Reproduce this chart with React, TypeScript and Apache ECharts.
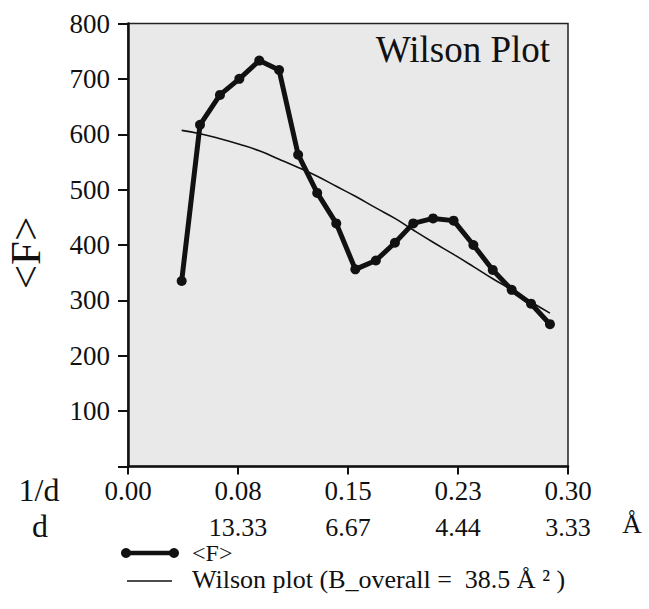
import React, { useEffect, useRef } from "react";
import * as echarts from "echarts";

// 1/d positions of the shells (Å^-1)
const invD = [0.0366, 0.0491, 0.0627, 0.0759, 0.0895, 0.103, 0.116, 0.129, 0.142, 0.155, 0.169, 0.182, 0.1945, 0.208, 0.222, 0.2355, 0.2487, 0.2616, 0.2748, 0.2877];
// mean amplitude <F> per shell
const meanF = [335, 617, 671, 700, 733, 716, 563, 494, 439, 356, 372, 404, 439, 448, 444, 400, 355, 319, 294, 257];
// Wilson plot fit
const wilsonFit = [607, 601, 592, 582, 570, 555, 540, 524, 506, 488, 467, 448, 427, 405, 383, 361, 339, 319, 297, 277];

const xTickLabels = ["0.00", "0.08", "0.15", "0.23", "0.30"];
const dTickLabels = ["", "13.33", "6.67", "4.44", "3.33"];

const FONT = "Liberation Serif";

export default function App() {
  const ref = useRef<HTMLDivElement>(null);
  useEffect(() => {
    document.body.style.margin = "0";
    if (!ref.current) return;
    const chart = echarts.init(ref.current, null, { renderer: "svg" });
    const tickIdx = (v: number) => Math.round(v / 0.075);
    chart.setOption({
      animation: false,
      backgroundColor: "#ffffff",
      textStyle: { fontFamily: FONT },
      grid: {
        left: 128,
        right: 81,
        top: 23.5,
        bottom: 142.5,
        show: true,
        backgroundColor: "#e9e9e9",
        borderColor: "#222",
        borderWidth: 1.5,
      },
      xAxis: [
        {
          type: "value",
          min: 0,
          max: 0.3,
          interval: 0.075,
          position: "bottom",
          axisLine: { show: true, onZero: false, lineStyle: { color: "#111", width: 2.5 } },
          axisTick: { show: true, length: 8, lineStyle: { color: "#111", width: 2 } },
          splitLine: { show: false },
          axisLabel: {
            margin: 11,
            color: "#111",
            fontFamily: FONT,
            fontSize: 27,
            formatter: (v: number) => xTickLabels[tickIdx(v)] ?? "",
          },
        },
        {
          type: "value",
          min: 0,
          max: 0.3,
          interval: 0.075,
          position: "bottom",
          offset: 36,
          axisLine: { show: false },
          axisTick: { show: false },
          splitLine: { show: false },
          axisLabel: {
            margin: 12,
            color: "#111",
            fontFamily: FONT,
            fontSize: 26,
            formatter: (v: number) => dTickLabels[tickIdx(v)] ?? "",
          },
        },
      ],
      yAxis: {
        type: "value",
        min: 0,
        max: 800,
        interval: 100,
        axisLine: { show: true, onZero: false, lineStyle: { color: "#111", width: 2.5 } },
        axisTick: { show: true, length: 10, lineStyle: { color: "#111", width: 2 } },
        splitLine: { show: false },
        axisLabel: {
          margin: 18,
          color: "#111",
          fontFamily: FONT,
          fontSize: 27,
          formatter: (v: number) => (v === 0 ? "" : String(v)),
        },
      },
      series: [
        {
          name: "Wilson plot (B_overall =  38.5 Å ² )",
          type: "line",
          smooth: true,
          showSymbol: false,
          data: invD.map((x, i) => [x, wilsonFit[i]]),
          lineStyle: { color: "#111", width: 1.6 },
          z: 2,
        },
        {
          name: "<F>",
          type: "line",
          data: invD.map((x, i) => [x, meanF[i]]),
          symbol: "circle",
          symbolSize: 10,
          itemStyle: { color: "#111" },
          lineStyle: { color: "#111", width: 5 },
          z: 3,
        },
      ],
      graphic: [
        {
          type: "text",
          x: 463,
          y: 49,
          style: { text: "Wilson Plot", font: `37px ${FONT}`, fill: "#111", align: "center", verticalAlign: "middle" },
        },
        {
          type: "text",
          x: 25,
          y: 253,
          rotation: Math.PI / 2,
          style: { text: "<F>", font: `43px ${FONT}`, fill: "#111", align: "center", verticalAlign: "middle" },
        },
        {
          type: "text",
          x: 39,
          y: 490,
          style: { text: "1/d", font: `32px ${FONT}`, fill: "#111", align: "center", verticalAlign: "middle" },
        },
        {
          type: "text",
          x: 40,
          y: 526,
          style: { text: "d", font: `32px ${FONT}`, fill: "#111", align: "center", verticalAlign: "middle" },
        },
        {
          type: "text",
          x: 632,
          y: 524,
          style: { text: "Å", font: `27px ${FONT}`, fill: "#111", align: "center", verticalAlign: "middle" },
        },
        // legend
        { type: "line", shape: { x1: 126, y1: 553, x2: 174, y2: 553 }, style: { stroke: "#111", lineWidth: 4.5 } },
        { type: "circle", shape: { cx: 126, cy: 553, r: 5 }, style: { fill: "#111" } },
        { type: "circle", shape: { cx: 174, cy: 553, r: 5 }, style: { fill: "#111" } },
        {
          type: "text",
          x: 192,
          y: 553,
          style: { text: "<F>", font: `24px ${FONT}`, fill: "#111", align: "left", verticalAlign: "middle" },
        },
        { type: "line", shape: { x1: 127, y1: 581, x2: 172, y2: 581 }, style: { stroke: "#111", lineWidth: 1.6 } },
        {
          type: "text",
          x: 192,
          y: 579,
          style: { text: "Wilson plot (B_overall =  38.5 Å ² )", font: `26px ${FONT}`, fill: "#111", align: "left", verticalAlign: "middle" },
        },
      ],
    });
    return () => chart.dispose();
  }, []);
  return <div ref={ref} style={{ width: 649, height: 609 }} />;
}
